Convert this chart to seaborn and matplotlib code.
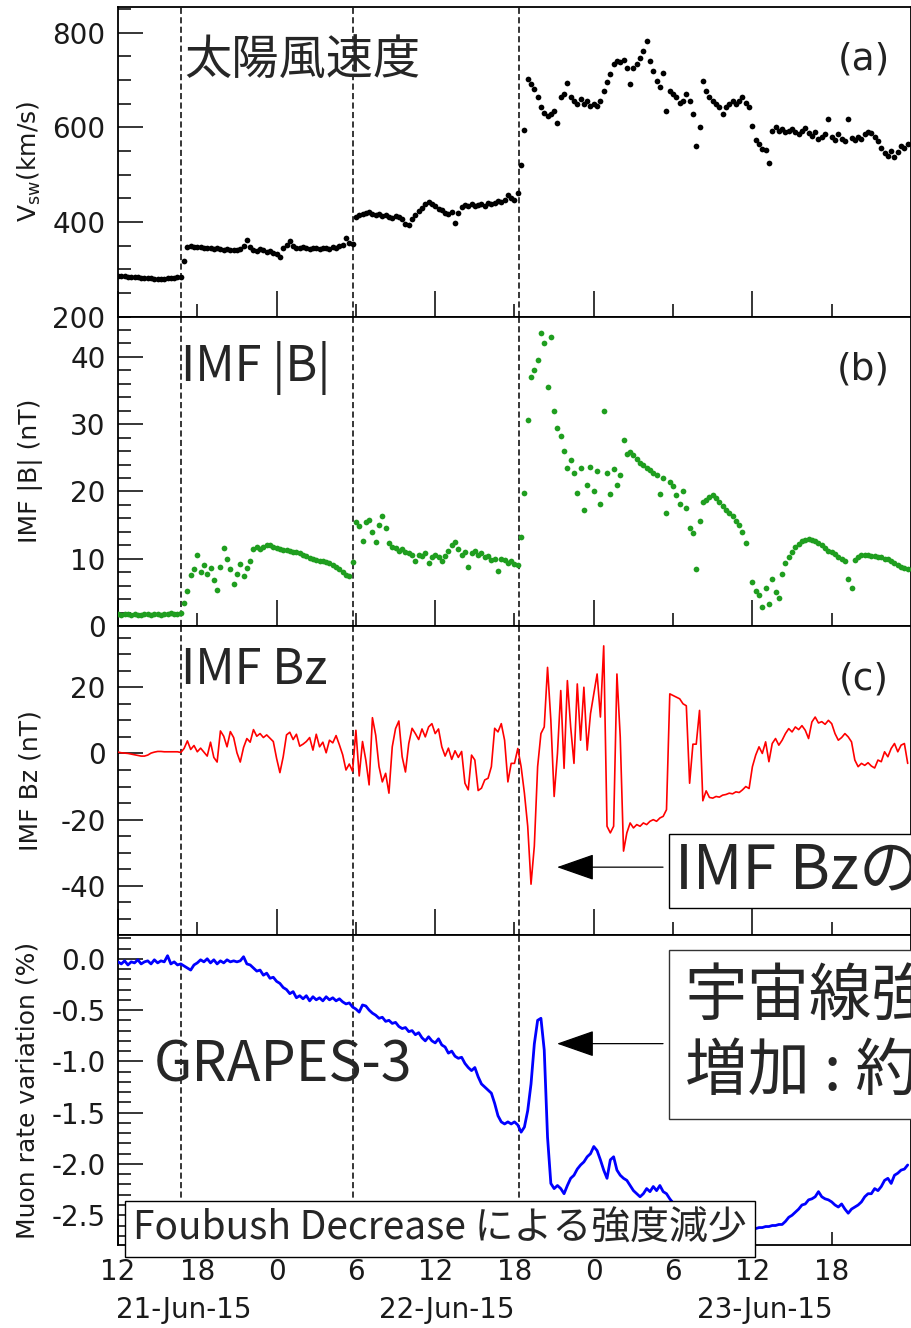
import matplotlib
matplotlib.use("Agg")
import matplotlib.pyplot as plt
import matplotlib.transforms as mtransforms
from matplotlib.ticker import MultipleLocator, FormatStrFormatter
import seaborn as sns
import numpy as np
import pandas as pd

sns.set_style("white")
plt.rcParams["font.family"] = ["DejaVu Sans"]
plt.rcParams["axes.unicode_minus"] = False
JP = ["Noto Sans CJK JP", "DejaVu Sans"]

# ── データ（21-Jun-15 00:00 からの経過時間 [h]、15分値） ───────────────
hour = 12 + 0.25 * np.arange(240)

vsw = [
    286, 285, 285, 284, 284, 283, 283, 282, 282, 281, 281, 280,
    280, 280, 280, 281, 281, 282, 283, 284, 318, 347, 349, 347,
    346, 347, 345, 344, 344, 343, 344, 342, 341, 342, 341, 340,
    341, 343, 348, 361, 346, 340, 338, 342, 340, 336, 339, 335,
    333, 326, 345, 352, 359, 350, 345, 344, 346, 344, 343, 345,
    344, 342, 344, 345, 343, 346, 345, 348, 352, 366, 356, 354,
    410, 414, 416, 418, 421, 417, 414, 416, 413, 415, 411, 409,
    412, 410, 407, 396, 393, 405, 414, 422, 430, 438, 441, 437,
    433, 428, 425, 419, 416, 420, 398, 418, 431, 436, 434, 438,
    433, 436, 437, 434, 440, 437, 440, 445, 442, 447, 456, 450,
    447, 462, 520, 595, 702, 691, 680, 663, 642, 631, 624, 628,
    635, 608, 663, 670, 694, 663, 656, 649, 659, 649, 656, 645,
    649, 645, 655, 677, 695, 712, 733, 740, 737, 743, 726, 691,
    726, 733, 747, 761, 782, 740, 719, 698, 684, 715, 635, 677,
    670, 663, 652, 656, 670, 656, 628, 561, 600, 698, 677, 663,
    656, 649, 642, 628, 642, 649, 656, 649, 656, 663, 652, 642,
    603, 572, 565, 554, 551, 525, 593, 600, 593, 596, 590, 593,
    596, 590, 586, 593, 598, 588, 582, 590, 575, 580, 585, 618,
    580, 572, 585, 576, 570, 618, 578, 572, 580, 575, 585, 590,
    588, 580, 570, 555, 545, 540, 550, 536, 548, 560, 555, 565,
]

imf_b = [
    1.8, 1.7, 1.8, 1.8, 1.7, 1.8, 1.7, 1.7, 1.8, 1.8, 1.7, 1.8,
    1.8, 1.7, 1.8, 1.8, 1.9, 1.8, 1.8, 1.9, 3.4, 5.2, 7.6, 8.4,
    10.5, 8.0, 9.0, 7.8, 8.6, 6.8, 5.4, 8.8, 11.6, 10.0, 8.4, 6.3,
    7.8, 9.2, 7.4, 8.6, 9.6, 11.5, 11.8, 11.4, 11.7, 12.0, 12.1, 11.8,
    11.6, 11.5, 11.3, 11.3, 11.2, 11.0, 11.0, 10.8, 10.6, 10.4, 10.1, 9.9,
    9.8, 9.7, 9.6, 9.5, 9.3, 9.0, 8.7, 8.4, 8.0, 7.6, 7.4, 9.5,
    15.5, 14.8, 12.6, 15.4, 15.7, 14.0, 12.5, 15.0, 16.4, 14.6, 12.3, 11.8,
    11.6, 11.2, 11.4, 11.0, 10.8, 10.5, 9.6, 10.6, 10.4, 10.8, 9.3, 10.2,
    10.6, 10.3, 9.6, 10.4, 11.2, 12.0, 12.5, 11.4, 10.6, 11.0, 8.8, 10.8,
    11.2, 10.6, 10.9, 10.2, 10.4, 9.8, 9.9, 8.2, 10.0, 9.8, 9.4, 9.6,
    9.2, 9.0, 13.3, 19.8, 30.6, 37.0, 38.0, 39.5, 43.5, 42.0, 35.5, 43.0,
    32.0, 29.5, 28.2, 26.0, 23.5, 24.6, 22.8, 19.8, 23.5, 17.3, 21.0, 23.6,
    20.0, 23.0, 18.2, 32.0, 22.8, 19.6, 23.4, 21.0, 22.5, 27.6, 25.5, 25.8,
    25.4, 24.8, 24.2, 24.0, 23.5, 23.2, 22.8, 22.5, 19.6, 22.0, 16.8, 21.4,
    20.8, 19.4, 18.2, 20.0, 17.5, 14.6, 13.8, 8.4, 15.6, 18.5, 18.8, 19.2,
    19.4, 19.0, 18.4, 17.8, 17.2, 16.8, 16.4, 15.6, 15.0, 14.0, 12.4, np.nan,
    6.5, 5.2, 4.6, 2.8, 5.6, 3.2, 7.0, 5.0, 4.2, 7.8, 9.3, 10.3,
    11.0, 11.8, 12.2, 12.6, 12.8, 12.9, 12.8, 12.6, 12.3, 12.0, 11.6, 11.2,
    11.0, 10.7, 10.3, 10.0, 9.6, 7.0, 5.6, 9.8, 10.2, 10.6, 10.6, 10.5,
    10.4, 10.4, 10.2, 10.2, 10.0, 9.9, 9.7, 9.4, 9.0, 8.8, 8.6, 8.4,
]

imf_bz = [
    0.4, 0.2, 0.1, 0.0, -0.2, -0.4, -0.6, -0.8, -0.8, -0.5, 0.1, 0.4,
    0.6, 0.6, 0.5, 0.5, 0.5, 0.5, 0.5, 0.3, 1.5, 3.8, 1.2, 2.4,
    0.5, 1.6, 0.4, -0.8, 3.4, -1.2, -2.6, 6.8, 5.2, 2.0, 6.6, 4.8,
    0.2, -2.6, 1.8, 4.5, 3.4, 7.2, 5.2, 6.0, 4.8, 5.6, 4.6, 3.6,
    -1.5, -5.8, -1.0, 5.6, 6.4, 4.2, 5.8, 2.2, 2.8, 3.6, 4.8, 1.0,
    5.8, 2.0, 3.4, 0.2, 4.0, 3.2, 5.4, 2.6, -0.4, -5.0, -3.2, -5.4,
    7.0, -6.8, 3.6, -2.0, -9.5, 10.8, 5.5, -4.0, -8.6, -6.0, -12.0, 2.0,
    7.5, 9.8, -1.0, -5.6, 3.0, 7.6, 6.0, 4.2, 7.4, 5.0, 8.0, 9.0,
    6.0, 7.4, 2.0, -0.8, 1.6, -1.8, 0.8, -1.2, 0.6, -9.0, -11.0, -0.5,
    -2.0, -11.2, -10.5, -8.0, -7.5, -4.0, 7.6, 6.5, 9.0, 4.0, -8.6, -3.0,
    -3.0, 1.5, -4.0, -12.0, -22.0, -39.5, -28.0, -4.0, 6.0, 8.0, 26.0, 10.0,
    -13.0, 0.0, 19.0, -4.5, 22.0, 8.0, -3.0, 21.0, 4.0, 20.0, 1.0, 12.0,
    18.0, 24.0, 11.0, 32.5, -22.0, -24.0, -22.0, 24.0, 5.0, -29.5, -24.0, -21.0,
    -22.5, -21.5, -22.0, -21.0, -21.5, -20.5, -20.0, -20.5, -19.5, -19.0, -17.0, 18.0,
    17.5, 17.0, 16.5, 15.0, 14.4, -9.0, 2.8, 2.8, 13.0, -14.3, -11.3, -13.3,
    -13.5, -13.0, -13.2, -12.6, -12.4, -12.0, -12.2, -11.6, -11.8, -11.0, -10.0, -10.6,
    -4.0, -0.5, 2.0, 0.0, 3.5, -2.5, 3.0, 4.5, 2.5, 4.0, 6.0, 7.5,
    6.5, 8.0, 7.2, 8.4, 7.0, 4.5, 9.5, 11.0, 9.2, 9.6, 8.8, 10.0,
    9.0, 6.0, 4.0, 4.8, 6.0, 5.0, 3.5, -2.0, -4.0, -3.0, -3.6, -2.8,
    -3.8, -4.4, -2.0, -2.5, 0.5, -1.0, 1.5, 3.0, 0.5, 2.5, 3.0, -3.0,
]

muon = [
    -0.03, -0.05, -0.02, -0.06, -0.03, -0.04, -0.01, -0.05, -0.03, -0.02, -0.05, -0.01,
    -0.04, -0.02, -0.03, 0.03, -0.05, -0.03, -0.06, -0.05, -0.07, -0.09, -0.11, -0.06,
    -0.04, -0.01, -0.03, 0.00, -0.04, -0.01, -0.05, -0.02, -0.04, -0.01, -0.03, -0.02,
    -0.03, -0.02, 0.02, -0.05, -0.06, -0.09, -0.12, -0.11, -0.16, -0.14, -0.19, -0.18,
    -0.22, -0.24, -0.28, -0.30, -0.34, -0.32, -0.38, -0.36, -0.39, -0.36, -0.41, -0.37,
    -0.40, -0.38, -0.41, -0.37, -0.40, -0.38, -0.41, -0.39, -0.42, -0.44, -0.43, -0.47,
    -0.49, -0.52, -0.45, -0.46, -0.50, -0.53, -0.55, -0.58, -0.57, -0.61, -0.60, -0.63,
    -0.62, -0.66, -0.68, -0.67, -0.71, -0.70, -0.74, -0.72, -0.77, -0.80, -0.76, -0.80,
    -0.82, -0.78, -0.84, -0.86, -0.92, -0.90, -0.95, -0.97, -0.96, -1.02, -1.06, -1.09,
    -1.06, -1.15, -1.22, -1.25, -1.28, -1.31, -1.41, -1.53, -1.59, -1.61, -1.59, -1.61,
    -1.59, -1.62, -1.69, -1.64, -1.48, -1.22, -0.83, -0.60, -0.58, -0.89, -1.74, -2.19,
    -2.24, -2.21, -2.24, -2.29, -2.21, -2.14, -2.11, -2.05, -2.01, -1.98, -1.93, -1.90,
    -1.83, -1.87, -1.96, -2.06, -2.14, -1.96, -1.93, -2.06, -2.11, -2.14, -2.16, -2.21,
    -2.26, -2.29, -2.32, -2.29, -2.24, -2.27, -2.22, -2.26, -2.21, -2.27, -2.29, -2.34,
    -2.38, -2.42, -2.45, -2.48, -2.50, -2.53, -2.55, -2.57, -2.59, -2.60, -2.62, -2.63,
    -2.64, -2.65, -2.66, -2.66, -2.67, -2.67, -2.66, -2.66, -2.65, -2.65, -2.64, -2.64,
    -2.63, -2.63, -2.62, -2.62, -2.61, -2.61, -2.60, -2.60, -2.59, -2.59, -2.56, -2.52,
    -2.50, -2.47, -2.44, -2.40, -2.39, -2.35, -2.34, -2.32, -2.27, -2.32, -2.34, -2.35,
    -2.37, -2.40, -2.42, -2.39, -2.44, -2.48, -2.44, -2.42, -2.40, -2.37, -2.32, -2.29,
    -2.29, -2.24, -2.26, -2.22, -2.16, -2.14, -2.19, -2.11, -2.09, -2.06, -2.05, -2.01,
]

event_hours = [16.77, 29.8, 42.36]          # 破線（衝撃波到来など）
major_hours = [12, 24, 36, 48, 60]
major_labels = ["12", "0", "12", "0", "12"]
minor_hours = [18, 30, 42, 54, 66]
minor_labels = ["18", "6", "18", "6", "18"]
date_hours = [17.0, 36.9, 60.95]
date_labels = ["21-Jun-15", "22-Jun-15", "23-Jun-15"]

df = pd.DataFrame({"hour": hour, "vsw": vsw, "imf_b": imf_b,
                   "imf_bz": imf_bz, "muon": muon})

# ── 描画 ────────────────────────────────────────────────────────
fig, axes = plt.subplots(4, 1, figsize=(9.12, 13.28), dpi=100)
fig.subplots_adjust(left=118 / 912, right=911 / 912,
                    top=1 - 7 / 1328, bottom=1 - 1245 / 1328, hspace=0)

sns.scatterplot(data=df, x="hour", y="vsw", ax=axes[0], color="black",
                s=17, linewidth=0, zorder=3)
sns.scatterplot(data=df, x="hour", y="imf_b", ax=axes[1], color="#1f9e1f",
                s=17, linewidth=0, zorder=3)
sns.lineplot(data=df, x="hour", y="imf_bz", ax=axes[2], color="#ff0000",
             lw=1.2, estimator=None, sort=False, zorder=3)
sns.lineplot(data=df, x="hour", y="muon", ax=axes[3], color="#0000ff",
             lw=2.0, estimator=None, sort=False, zorder=3)

ylims = [(200, 854), (0, 46), (-55, 38.5), (-2.79, 0.227)]
ymajor = [200, 10, 20, 0.5]
yminor = [50, 2, 5, 0.1]
ylabels = [r"V$_{\mathrm{sw}}$(km/s)", "IMF |B| (nT)", "IMF Bz (nT)",
           "Muon rate variation (%)"]
ylabel_x = [-0.0946, -0.0946, -0.0946, -0.0996]

for i, ax in enumerate(axes):
    ax.set_xlim(12, 72)
    ax.set_ylim(*ylims[i])
    for t in event_hours:
        ax.axvline(t, color="black", lw=1.1, ls=(0, (4, 2.2)), zorder=2)
    for sp in ax.spines.values():
        sp.set_linewidth(1.3)
        sp.set_color("black")
    ax.yaxis.set_major_locator(MultipleLocator(ymajor[i]))
    ax.yaxis.set_minor_locator(MultipleLocator(yminor[i]))
    if i == 3:
        ax.yaxis.set_major_formatter(FormatStrFormatter("%.1f"))
    ax.set_xticks(major_hours, labels=major_labels)
    ax.set_xticks(minor_hours, labels=minor_labels, minor=True)
    ax.tick_params(axis="both", which="both", direction="in", top=False,
                   right=False, left=True, bottom=True, width=1.1,
                   color="black", labelcolor="#1a1a1a", labelsize=20)
    ax.tick_params(axis="y", which="major", length=18, pad=9)
    ax.tick_params(axis="y", which="minor", length=9)
    ax.tick_params(axis="x", which="major", length=19, pad=9)
    ax.tick_params(axis="x", which="minor", length=9.5, pad=9)
    if i < 3:
        ax.tick_params(axis="x", which="both", labelbottom=False)
    ax.set_xlabel("")
    ax.set_ylabel(ylabels[i], fontsize=18, color="#1a1a1a")
    ax.yaxis.set_label_coords(ylabel_x[i], 0.5)

# 日付ラベル
trans = mtransforms.blended_transform_factory(axes[3].transData, axes[3].transAxes)
for h, lab in zip(date_hours, date_labels):
    axes[3].text(h, -0.21, lab, transform=trans, ha="center", va="center",
                 fontsize=20, color="#1a1a1a")

# パネル見出し
axes[0].text(0.083, 0.784, "太陽風速度", transform=axes[0].transAxes,
             fontsize=34, family=JP, ha="left", va="baseline", zorder=5)
axes[1].text(0.0794, 0.791, "IMF |B|", transform=axes[1].transAxes,
             fontsize=35, family=JP, ha="left", va="baseline", zorder=5)
axes[2].text(0.0794, 0.812, "IMF Bz", transform=axes[2].transAxes,
             fontsize=35, family=JP, ha="left", va="baseline", zorder=5)
axes[3].text(0.0454, 0.527, "GRAPES-3", transform=axes[3].transAxes,
             fontsize=40, family=JP, ha="left", va="baseline", zorder=5)

for ax, tag, y in zip(axes[:3], ["(a)", "(b)", "(c)"], [0.829, 0.829, 0.828]):
    ax.text(0.940, y, tag, transform=ax.transAxes, fontsize=27,
            color="#222222", ha="center", va="center")

# 注釈ボックスと矢印
box = dict(boxstyle="square,pad=0.1", fc="white", ec="black", lw=1.0)
axes[2].text(0.7024, 0.1526, "IMF Bzの", transform=axes[2].transAxes,
             fontsize=44, family=JP, ha="left", va="baseline", bbox=box, zorder=6)
arrow = dict(arrowstyle="-|>,head_length=1.0,head_width=0.35", mutation_scale=24,
             lw=0.9, color="black", shrinkA=0, shrinkB=0)
axes[2].annotate("", xy=(0.5536, 0.2208), xytext=(0.6873, 0.2208),
                 xycoords="axes fraction", textcoords="axes fraction",
                 arrowprops=arrow, zorder=6)

box2 = dict(boxstyle="square,pad=0.25", fc="white", ec="#333333", lw=1.0)
axes[3].text(0.715, 0.903, "宇宙線強度\n増加 : 約", transform=axes[3].transAxes,
             fontsize=45, family=JP, ha="left", va="top", bbox=box2,
             linespacing=1.2, zorder=6)
axes[3].annotate("", xy=(0.5536, 0.6506), xytext=(0.6873, 0.6506),
                 xycoords="axes fraction", textcoords="axes fraction",
                 arrowprops=arrow, zorder=6)

box3 = dict(boxstyle="square,pad=0.2", fc="white", ec="black", lw=1.0)
axes[3].text(0.019, 0.017, "Foubush Decrease による強度減少",
             transform=axes[3].transAxes, fontsize=28, family=JP,
             ha="left", va="baseline", bbox=box3, zorder=6, clip_on=False)

fig.savefig("out.png", dpi=100)
